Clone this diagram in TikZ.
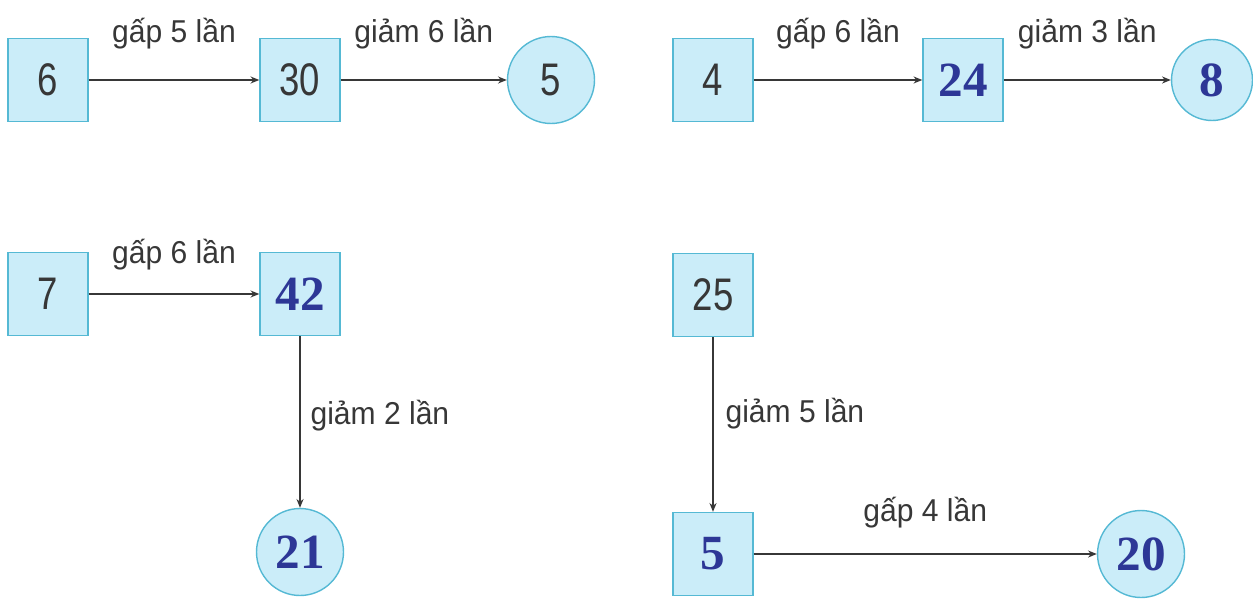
\documentclass[tikz,border=0pt]{standalone}
\usepackage{fontspec}
\setmainfont{Liberation Sans}
\newfontfamily\numfont[FakeStretch=0.8]{Liberation Sans}
\newfontfamily\lblfont[FakeStretch=0.95]{Liberation Sans}
\newfontfamily\ansfont{Liberation Serif}
\usepackage{xcolor}
\usepackage{tikz}
\usetikzlibrary{arrows.meta}
\definecolor{boxfill}{RGB}{203,237,249}
\definecolor{boxline}{RGB}{85,185,212}
\definecolor{ansblue}{RGB}{45,55,150}
\definecolor{txtgray}{RGB}{55,55,55}

\begin{document}
\begin{tikzpicture}[
  x = 0.02cm, y = -0.02cm,
  box/.style = {draw = boxline, fill = boxfill, line width = 0.8pt,
    minimum width = 1.6cm, minimum height = 1.66cm, inner sep = 0pt},
  ring/.style = {draw = boxline, fill = boxfill, line width = 0.8pt,
    circle, minimum size = 1.74cm, inner sep = 0pt},
  num/.style = {font = \numfont\fontsize{26}{26}\selectfont, text = txtgray},
  ans/.style = {font = \ansfont\bfseries\fontsize{28}{28}\selectfont, text = ansblue},
  lbl/.style = {font = \lblfont\fontsize{18}{18}\selectfont, text = txtgray, inner sep = 0pt},
  arr/.style = {-{Stealth[length = 5pt, width = 4pt]}, line width = 0.7pt, draw = txtgray}
  ]
  \useasboundingbox (0,0) rectangle (1253,598);

  % top left
  \node[box, num] (a1) at (48,80) {6};
  \node[box, num] (a2) at (300,80) {30};
  \node[ring, num] (a3) at (551,80) {5};
  \draw[arr] (a1) -- node[lbl, above = 6mm] {gấp 5 lần} (a2);
  \draw[arr] (a2) -- node[lbl, above = 6mm] {giảm 6 lần} (a3);

  % top right
  \node[box, num] (b1) at (713,80) {4};
  \node[box, ans] (b2) at (963,80) {24};
  \node[ring, ans, minimum size = 1.62cm] (b3) at (1212,80) {8};
  \draw[arr] (b1) -- node[lbl, above = 6mm] {gấp 6 lần} (b2);
  \draw[arr] (b2) -- node[lbl, above = 6mm] {giảm 3 lần} (b3);

  % bottom left
  \node[box, num] (c1) at (48,294) {7};
  \node[box, ans] (c2) at (300,294) {42};
  \node[ring, ans] (c3) at (300,552) {21};
  \draw[arr] (c1) -- node[lbl, above = 4.6mm] {gấp 6 lần} (c2);
  \draw[arr] (c2) -- node[lbl, pos = 0.465, anchor = west, xshift = 2mm] {giảm 2 lần} (c3);

  % bottom right
  \node[box, num] (d1) at (713,295) {25};
  \node[box, ans] (d2) at (713,554) {5};
  \node[ring, ans] (d3) at (1141,554) {20};
  \draw[arr] (d1) -- node[lbl, pos = 0.44, anchor = west, xshift = 2.4mm] {giảm 5 lần} (d2);
  \draw[arr] (d2) -- node[lbl, above = 5mm] {gấp 4 lần} (d3);
\end{tikzpicture}
\end{document}
